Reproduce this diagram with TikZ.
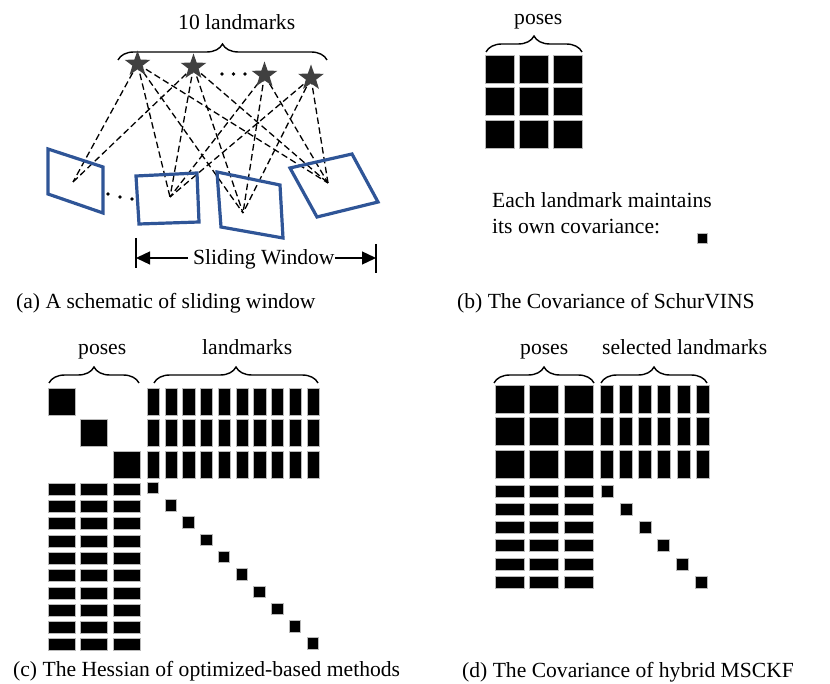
\documentclass[tikz,border=0pt]{standalone}
\usepackage{fontspec}
\setmainfont{Liberation Serif}
\usetikzlibrary{shapes.geometric,decorations.pathreplacing,arrows.meta}
\definecolor{camblue}{RGB}{47,85,151}
\definecolor{stargray}{RGB}{64,64,64}
\begin{document}
\begin{tikzpicture}[x=1pt,y=-1pt,
  txt/.style={font=\fontsize{21.6}{26}\selectfont, inner sep=0pt, anchor=base west},
  cam/.style={draw=camblue, line width=3.2pt, line join=miter},
  ray/.style={dash pattern=on 6.5pt off 3.5pt, line width=1.3pt},
  lm/.style={star, star points=5, star point ratio=2.5, minimum size=27pt, inner sep=0pt, fill=stargray},
  brc/.style={decorate, decoration={brace, amplitude=16pt}, line width=1.4pt},
  blk/.style={fill=black, draw=gray!55, line width=0.5pt},
  dotn/.style={circle, fill=black, inner sep=0pt, minimum size=3.8pt},
  swarrow/.style={-{Triangle[length=14pt,width=13pt]}, line width=1.3pt}]
\useasboundingbox (0,0) rectangle (830,684);

% ---------------- panel (a) ----------------
\node[txt] (lmtext) at (178,30) {10 landmarks};
\draw[brc] (118,60) -- (327,60);

\coordinate (c1) at (137.5,64);
\coordinate (c2) at (193.5,67);
\coordinate (c3) at (264.5,75);
\coordinate (c4) at (311,78);
\coordinate (f1) at (73,182);
\coordinate (f2) at (170,197);
\coordinate (f3) at (243,213);
\coordinate (f4) at (328,183);

\foreach \s/\f in {c1/f1,c1/f2,c1/f3,c1/f4,c2/f1,c2/f2,c2/f3,c2/f4,c3/f2,c3/f3,c3/f4,c4/f2,c4/f3,c4/f4}
  \draw[ray] (\s) -- (\f);

\node[lm] (s1) at (c1) {};
\node[lm] (s2) at (c2) {};
\node[lm] (s3) at (c3) {};
\node[lm] (s4) at (c4) {};

\node[dotn] (d1) at (222,74) {};
\node[dotn] (d2) at (233.5,74) {};
\node[dotn] (d3) at (245,74) {};

\draw[cam] (48,149) -- (103,167) -- (103,213) -- (48,194) -- cycle;
\draw[cam] (136,176) -- (197,173) -- (199,222) -- (139,224) -- cycle;
\draw[cam] (217,172) -- (280,185) -- (283,238) -- (221,227) -- cycle;
\draw[cam] (290,168) -- (352,154) -- (378,202) -- (317,217) -- cycle;

\node[dotn] (d4) at (108,194) {};
\node[dotn] (d5) at (120,197) {};
\node[dotn] (d6) at (132,199) {};

\coordinate (swL) at (136,258);
\coordinate (swR) at (376,258);
\draw[line width=1.3pt] (136,238) -- (136,268);
\draw[line width=1.3pt] (376,244) -- (376,273);
\node[txt] (sw) at (193,265) {Sliding Window};
\draw[swarrow] (188,258) -- (swL);
\draw[swarrow] (335,258) -- (swR);

\node[txt] (capa) at (16,309) {(a) A schematic of sliding window};

% ---------------- panel (b) ----------------
\node[txt] (posesb) at (514,25) {poses};
\draw[brc] (486,52) -- (582,52);
\foreach \i in {0,1,2} \foreach \j in {0,1,2}
  \draw[blk] ({485+34*\i},{55+32.5*\j}) rectangle ++(29,28);
\node[txt] (eachl) at (492,208) {Each landmark maintains};
\node[txt] (itsown) at (492,234) {its own covariance:};
\draw[blk] (697,233) rectangle ++(10,10);
\node[txt] (capb) at (457,309) {(b) The Covariance of SchurVINS};

% ---------------- panel (c) ----------------
\node[txt] (posesc) at (78,355) {poses};
\node[txt] (lmc) at (202,355) {landmarks};
\draw[brc] (49,383) -- (139,383);
\draw[brc] (154,383) -- (318,383);
\foreach \i in {0,1,2}
  \draw[blk] ({48+32.5*\i},{388+31.5*\i}) rectangle ++(27,27);
\foreach \k in {0,...,9} \foreach \j in {0,1,2}
  \draw[blk] ({147+17.75*\k},{388+31.5*\j}) rectangle ++(12.3,27);
\foreach \k in {0,...,9} \foreach \i in {0,1,2}
  \draw[blk] ({48+32.5*\i},{483+17.3*\k}) rectangle ++(27,12);
\foreach \k in {0,...,9}
  \draw[blk] ({147+17.75*\k},{482+17.3*\k}) rectangle ++(11.5,11.5);
\node[txt] (capc) at (13,676) {(c) The Hessian of optimized-based methods};

% ---------------- panel (d) ----------------
\node[txt] (posesd) at (520,355) {poses};
\node[txt] (lmd) at (602,355) {selected landmarks};
\draw[brc] (494,383) -- (594,383);
\draw[brc] (601,383) -- (707,383);
\foreach \i in {0,1,2} \foreach \j in {0,1,2}
  \draw[blk] ({495+34.5*\i},{385+32.5*\j}) rectangle ++(29,28);
\foreach \k in {0,...,5} \foreach \j in {0,1,2}
  \draw[blk] ({600+19.2*\k},{385+32.5*\j}) rectangle ++(13,28);
\foreach \k in {0,...,5} \foreach \i in {0,1,2}
  \draw[blk] ({495+34.5*\i},{485+18.2*\k}) rectangle ++(29,12);
\foreach \k in {0,...,5}
  \draw[blk] ({601+18.9*\k},{485+18.2*\k}) rectangle ++(12,12);
\node[txt] (capd) at (462,677) {(d) The Covariance of hybrid MSCKF};
\end{tikzpicture}
\end{document}
